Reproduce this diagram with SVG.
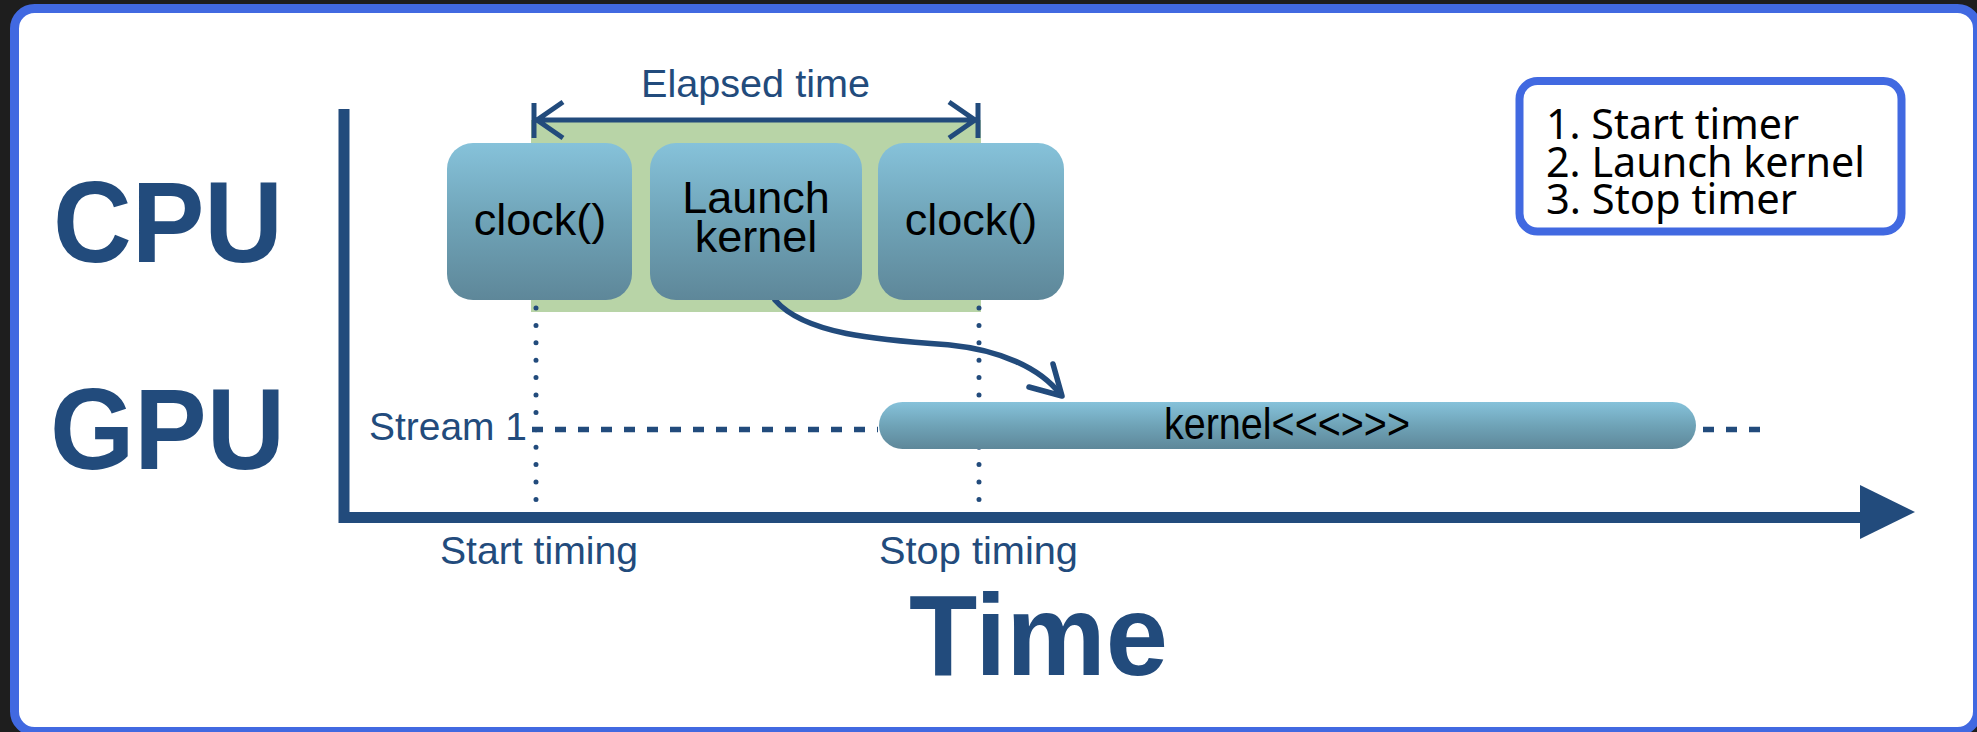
<svg xmlns="http://www.w3.org/2000/svg" width="1977" height="732" viewBox="0 0 1977 732">
<defs>
<linearGradient id="boxg" x1="0" y1="0" x2="0" y2="1">
<stop offset="0" stop-color="#86C2DA"/>
<stop offset="0.5" stop-color="#6FA3B7"/>
<stop offset="1" stop-color="#5E8799"/>
</linearGradient>
<style>
.lbl{font-family:"Liberation Sans",Arial,sans-serif;font-size:39px;fill:#224B7C}
.big{font-family:"Liberation Sans",Arial,sans-serif;font-size:115px;font-weight:bold;fill:#224B7C}
.box{fill:url(#boxg)}
.btxt{font-family:"Liberation Sans",Arial,sans-serif;font-size:45px;fill:#000;text-anchor:middle}
.leg{font-family:"Noto Sans",sans-serif;font-size:41px;fill:#000}
.dots{stroke:#224B7C;stroke-width:5;stroke-linecap:round;stroke-dasharray:0 17.4;fill:none}
.dash{stroke:#224B7C;stroke-width:5.5;stroke-dasharray:11 12;fill:none}
.ln{stroke:#224B7C;fill:none}
</style>
</defs>
<rect x="0" y="0" width="1977" height="732" fill="#1E1E1E"/>
<rect x="14.5" y="8.5" width="1963" height="723" rx="20" fill="#FFFFFF" stroke="#4169E1" stroke-width="9"/>

<g id="bg-elapsed">
<rect x="531" y="120" width="450" height="192" fill="#B8D4A7"/>
</g>

<g id="labels">
<text class="big" x="53" y="262" textLength="230" lengthAdjust="spacingAndGlyphs">CPU</text>
<text class="big" x="50" y="469" textLength="235" lengthAdjust="spacingAndGlyphs">GPU</text>
<text class="big" x="909" y="675" textLength="259" lengthAdjust="spacingAndGlyphs">Time</text>
<text class="lbl" x="641" y="97" textLength="229" lengthAdjust="spacingAndGlyphs">Elapsed time</text>
<text class="lbl" x="369" y="440" textLength="158" lengthAdjust="spacingAndGlyphs">Stream 1</text>
<text class="lbl" x="440" y="564" textLength="198" lengthAdjust="spacingAndGlyphs">Start timing</text>
<text class="lbl" x="879" y="564" textLength="199" lengthAdjust="spacingAndGlyphs">Stop timing</text>
</g>

<g id="connectors">
<path class="dots" d="M536,308 V505"/>
<path class="dots" d="M979,308 V505"/>
<path class="dash" d="M532,429.5 H878"/>
<path class="dash" d="M1703,429.5 H1764"/>
<path class="ln" stroke-width="5" d="M534,120 H978 M534,103 V138 M978,103 V138 M563,102 L537,120 L563,138 M949,102 L975,120 L949,138"/>
<path class="ln" stroke-width="11" d="M344,109 V517.5 H1862"/>
<polygon points="1860,485 1915,512 1860,539" fill="#224B7C"/>
<path class="ln" stroke-width="5.5" stroke-linecap="round" d="M775,300 C805,335 880,340 950,345 C1000,350 1040,368 1060,394"/>
<path class="ln" stroke-width="5.5" stroke-linecap="round" stroke-linejoin="round" d="M1053,364 L1062,396 L1029,387"/>
</g>

<g id="clock-start">
<rect class="box" x="447" y="143" width="185" height="157" rx="26"/>
<text class="btxt" x="540" y="235">clock()</text>
</g>
<g id="launch-kernel">
<rect class="box" x="650" y="143" width="212" height="157" rx="26"/>
<text class="btxt" x="756" y="213">Launch</text>
<text class="btxt" x="756" y="252">kernel</text>
</g>
<g id="clock-stop">
<rect class="box" x="878" y="143" width="186" height="157" rx="26"/>
<text class="btxt" x="971" y="235">clock()</text>
</g>
<g id="kernel-bar">
<rect class="box" x="879" y="402" width="817" height="47" rx="23.5"/>
<text class="btxt" x="1287" y="439" font-size="38" textLength="246" lengthAdjust="spacingAndGlyphs">kernel&lt;&lt;&lt;&gt;&gt;&gt;</text>
</g>
<g id="legend">
<rect x="1519.5" y="81" width="382" height="150.5" rx="18" fill="#FFFFFF" stroke="#4169E1" stroke-width="8"/>
<text class="leg" x="1546" y="139" textLength="253" lengthAdjust="spacingAndGlyphs">1. Start timer</text>
<text class="leg" x="1546" y="177" textLength="319" lengthAdjust="spacingAndGlyphs">2. Launch kernel</text>
<text class="leg" x="1546" y="214" textLength="251" lengthAdjust="spacingAndGlyphs">3. Stop timer</text>
</g>
</svg>
